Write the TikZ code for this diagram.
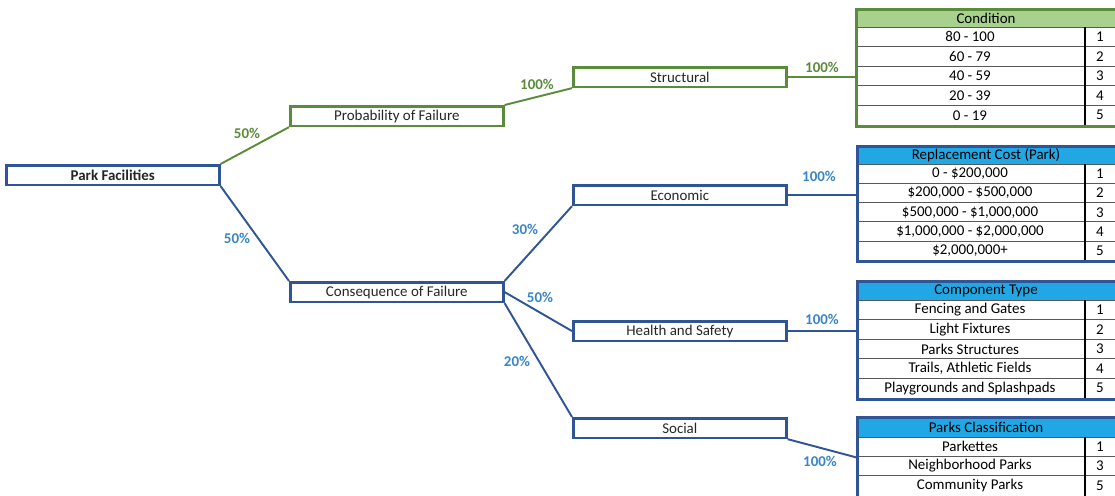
\documentclass[tikz,border=0pt]{standalone}
\usepackage{fontspec}
\setmainfont{Carlito}
\usetikzlibrary{positioning,calc}
\definecolor{pofgreen}{HTML}{5B8C3B}
\definecolor{hdrgreen}{HTML}{A9D18E}
\definecolor{cofblue}{HTML}{2F5597}
\definecolor{hdrblue}{HTML}{22A7E5}
\definecolor{pctblue}{HTML}{3A85C6}

\begin{document}
\begin{tikzpicture}[x=0.02cm, y=-0.02cm,
  font=\fontsize{8.5}{10}\selectfont,
  box/.style={draw, line width=1.5pt, fill=white, text=black!85, minimum width=4.26cm, minimum height=0.39cm, inner sep=0pt, anchor=north west},
  link/.style={line width=1.1pt},
  pct/.style={font=\fontsize{8.5}{10}\selectfont\bfseries},
  tabframe/.style={draw, line width=1.5pt, minimum width=5.26cm, anchor=north west, inner sep=0pt},
  rowline/.style={black!65, line width=0.5pt}]
  \useasboundingbox (0,0) rectangle (1115,495);

  % Tree nodes
  \node[box, draw=cofblue, font=\fontsize{8.5}{10}\selectfont\bfseries] (pf) at (5,164) {Park Facilities};
  \node[box, draw=pofgreen] (pof) at (289,105) {Probability of Failure};
  \node[box, draw=pofgreen] (struct) at (572,66) {Structural};
  \node[box, draw=cofblue] (cof) at (289,281) {Consequence of Failure};
  \node[box, draw=cofblue] (econ) at (572,184) {Economic};
  \node[box, draw=cofblue] (hs) at (572,320) {Health and Safety};
  \node[box, draw=cofblue] (soc) at (572,417) {Social};

  % Condition table
  \fill[hdrgreen] (855,8) rectangle (1117,27);
  \node at (986,18) {Condition};
  \foreach \txt/\val [count=\i] in {80 - 100/1, 60 - 79/2, 40 - 59/3, 20 - 39/4, 0 - 19/5} {
    \draw[rowline] (855,{27+19.6*(\i-1)}) -- (1117,{27+19.6*(\i-1)});
    \node at (970,{27+19.6*(\i-0.5)}) {\txt};
    \node at (1100,{27+19.6*(\i-0.5)}) {\val};
  }
  \draw[black, line width=0.6pt] (1085,27) -- (1085,125);
  \node[tabframe, draw=pofgreen, minimum height=2.34cm] (cond) at (855,8) {};

  % Replacement cost table
  \fill[hdrblue] (856,145) rectangle (1117,164);
  \node at (986,155) {Replacement Cost (Park)};
  \foreach \txt/\val [count=\i] in {{0 - \$200,000}/1, {\$200,000 - \$500,000}/2, {\$500,000 - \$1,000,000}/3, {\$1,000,000 - \$2,000,000}/4, {\$2,000,000+}/5} {
    \draw[rowline] (856,{164+19.3*(\i-1)}) -- (1117,{164+19.3*(\i-1)});
    \node at (970,{164+19.3*(\i-0.5)}) {\txt};
    \node at (1100,{164+19.3*(\i-0.5)}) {\val};
  }
  \draw[black, line width=0.6pt] (1085,164) -- (1085,260);
  \node[tabframe, draw=cofblue, minimum height=2.3cm] (rcost) at (856,145) {};

  % Component type table
  \fill[hdrblue] (856,280) rectangle (1117,300);
  \node at (986,291) {Component Type};
  \foreach \txt/\val [count=\i] in {Fencing and Gates/1, Light Fixtures/2, Parks Structures/3, {Trails, Athletic Fields}/4, Playgrounds and Splashpads/5} {
    \draw[rowline] (856,{300+19.6*(\i-1)}) -- (1117,{300+19.6*(\i-1)});
    \node at (970,{300+19.6*(\i-0.5)}) {\txt};
    \node at (1100,{300+19.6*(\i-0.5)}) {\val};
  }
  \draw[black, line width=0.6pt] (1085,300) -- (1085,398);
  \node[tabframe, draw=cofblue, minimum height=2.36cm] (ctype) at (856,280) {};

  % Parks classification table
  \fill[hdrblue] (856,416) rectangle (1117,437);
  \node at (986,427) {Parks Classification};
  \foreach \txt/\val [count=\i] in {Parkettes/1, Neighborhood Parks/3, Community Parks/5} {
    \draw[rowline] (856,{437+19.3*(\i-1)}) -- (1117,{437+19.3*(\i-1)});
    \node at (970,{437+19.3*(\i-0.5)}) {\txt};
    \node at (1100,{437+19.3*(\i-0.5)}) {\val};
  }
  \draw[black, line width=0.6pt] (1085,437) -- (1085,496);
  \node[tabframe, draw=cofblue, minimum height=1.6cm] (pclass) at (856,416) {};

  % Connectors
  \draw[link, pofgreen] (pf.north east) -- (pof.south west);
  \draw[link, cofblue] (pf.south east) -- (cof.north west);
  \draw[link, pofgreen] (pof.north east) -- (struct.south west);
  \draw[link, pofgreen] (struct.east) -- (struct.east -| cond.west);
  \draw[link, cofblue] (cof.north east) -- (econ.south west);
  \draw[link, cofblue] (cof.east) -- (hs.west);
  \draw[link, cofblue] (cof.south east) -- (soc.north west);
  \draw[link, cofblue] (econ.east) -- (econ.east -| rcost.west);
  \draw[link, cofblue] (hs.east) -- (hs.east -| ctype.west);
  \draw[link, cofblue] (soc.south east) -- (pclass.west);

  % Weights
  \node[pct, pofgreen] at (247,133) {50\%};
  \node[pct, pctblue] at (237,238) {50\%};
  \node[pct, pofgreen] at (537,84) {100\%};
  \node[pct, pofgreen] at (822,67) {100\%};
  \node[pct, pctblue] at (525,229) {30\%};
  \node[pct, pctblue] at (540,297) {50\%};
  \node[pct, pctblue] at (517,361) {20\%};
  \node[pct, pctblue] at (819,176) {100\%};
  \node[pct, pctblue] at (822,319) {100\%};
  \node[pct, pctblue] at (820,461) {100\%};
\end{tikzpicture}
\end{document}
